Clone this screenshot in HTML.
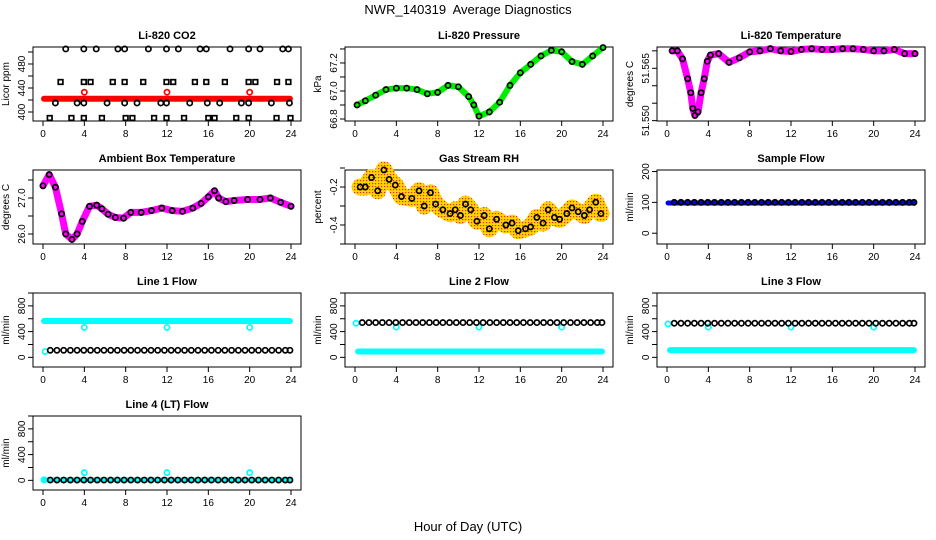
<!DOCTYPE html>
<html><head><meta charset="utf-8"><style>
html,body{margin:0;padding:0;background:#fff;}
svg{display:block;font-family:"Liberation Sans",sans-serif;}
</style></head><body>
<svg id="chart" width="936" height="540" viewBox="0 0 936 540" xmlns="http://www.w3.org/2000/svg">
<defs>
<pattern id="rhpat" width="3" height="3" patternUnits="userSpaceOnUse">
<rect width="3" height="3" fill="#ffd400"/>
<rect x="0" y="0" width="1.2" height="1.2" fill="#e8281a"/>
</pattern>
</defs>
<text x="468" y="14" font-size="13" text-anchor="middle" xml:space="preserve">NWR_140319  Average Diagnostics</text>
<text x="468" y="531" font-size="13" text-anchor="middle">Hour of Day (UTC)</text>
</svg>
<script>
// ---- data ----
const xTicks = [0,4,8,12,16,20,24];
const flowHours = [0.7,1.35,2.0,2.65,3.3,3.95,4.6,5.25,5.9,6.55,7.2,7.85,8.5,9.15,9.8,10.45,11.1,11.75,12.4,13.05,13.7,14.35,15.0,15.65,16.3,16.95,17.6,18.25,18.9,19.55,20.2,20.85,21.5,22.15,22.8,23.45,23.9];

const co2RedHours = [0.1,23.9];
const co2RedVals = [422,422];
const co2RedOutHours = [4,12,20];
const co2RedOutVals = [433,433,433];
const co2TopHours = [2.2,3.95,5.15,7.25,7.9,10.2,11.95,13.1,15.2,15.8,18.1,19.9,21.0,23.2,23.75];
const co2TopVals = [505,505,505,505,505,505,505,505,505,505,505,505,505,505,505];
const co2SqHours = [1.7,3.95,4.6,6.75,7.9,9.7,11.95,12.6,14.7,15.8,17.6,19.9,20.55,22.65,23.75];
const co2SqVals = [450,450,450,450,450,450,450,450,450,450,450,450,450,450,450];
const co2MidHours = [1.2,3.3,3.95,6.2,7.9,9.1,11.4,11.95,14.2,15.9,17.1,19.2,19.9,22.1,23.85];
const co2MidVals = [415,415,415,415,415,415,415,415,415,415,415,415,415,415,415];
const co2BotHours = [0.65,2.75,3.95,5.7,8.0,8.65,10.75,11.95,13.65,16.0,16.6,18.7,19.9,22.6,23.95];
const co2BotVals = [390,390,390,390,390,390,390,390,390,390,390,390,390,390,390];

const presHours = [0.2,1,2,3,4,5,6,7,8,9,10,11,11.5,12,13,14,15,16,17,18,19,20,21,22,23,24];
const presVals = [66.9,66.93,66.97,67.01,67.02,67.02,67.01,66.98,66.99,67.04,67.03,66.96,66.9,66.82,66.85,66.92,67.04,67.13,67.19,67.25,67.29,67.28,67.21,67.19,67.25,67.31];

const tempHours = [0.5,1,1.5,2,2.3,2.5,2.7,3,3.3,3.6,3.9,4.2,5,6,7,8,9,10,11,12,13,14,15,16,17,18,19,20,21,22,23,24];
const tempVals = [51.570,51.570,51.5677,51.562,51.558,51.5535,51.5515,51.5525,51.558,51.562,51.567,51.5688,51.5692,51.5667,51.568,51.5697,51.570,51.5706,51.570,51.5698,51.5704,51.5706,51.5704,51.5704,51.5706,51.5706,51.5704,51.570,51.570,51.5704,51.5692,51.5692];

const ambHours = [0,0.6,1.2,1.8,2.2,2.8,3.3,3.8,4.5,5.2,5.7,6.3,7,7.8,8.5,9.5,10.5,11.5,12.5,13.5,14.5,15.3,16,16.6,17,17.7,18.5,19.8,21,22,23,24];
const ambVals = [27.34,27.65,27.3,26.56,26.0,25.85,26.0,26.35,26.77,26.8,26.7,26.55,26.46,26.44,26.6,26.6,26.65,26.72,26.65,26.63,26.72,26.85,27.03,27.2,27.0,26.9,26.93,26.96,26.96,27.0,26.88,26.77];

const rhHours = [0.5,1,1.6,2.2,2.8,3.3,3.9,4.5,5.5,6.2,6.7,7.3,7.8,8.5,9.2,9.7,10.2,10.7,11.2,11.8,12.5,13,13.7,14.6,15.2,15.8,16.5,17,17.6,18.2,18.7,19.3,19.8,20.5,21,21.6,22.2,22.7,23.3,23.8];
const rhVals = [-0.2,-0.2,-0.15,-0.22,-0.11,-0.16,-0.19,-0.25,-0.26,-0.22,-0.3,-0.23,-0.29,-0.32,-0.34,-0.32,-0.35,-0.29,-0.32,-0.38,-0.35,-0.42,-0.37,-0.4,-0.39,-0.43,-0.42,-0.41,-0.36,-0.39,-0.32,-0.36,-0.37,-0.34,-0.31,-0.33,-0.35,-0.32,-0.28,-0.34];

const sampleBlueHours = [0.1,23.9];
const sampleBlueVals = [98,98];
const sampleBlackVals = [100,100,100,100,100,100,100,100,100,100,100,100,100,100,100,100,100,100,100,100,100,100,100,100,100,100,100,100,100,100,100,100,100,100,100,100,100];

const l1CyanHours = [0.1,23.9];
const l1CyanVals = [565,565];
const l1CyanExtraHours = [0.2,4,12,20];
const l1CyanExtraVals = [90,465,465,465];
const l1BlackVals = [110,110,110,110,110,110,110,110,110,110,110,110,110,110,110,110,110,110,110,110,110,110,110,110,110,110,110,110,110,110,110,110,110,110,110,110,110];

const l2CyanHours = [0.3,23.9];
const l2CyanVals = [90,90];
const l2CyanExtraHours = [0.1,4,12,20];
const l2CyanExtraVals = [530,470,470,470];
const l2BlackVals = [540,540,540,540,540,540,540,540,540,540,540,540,540,540,540,540,540,540,540,540,540,540,540,540,540,540,540,540,540,540,540,540,540,540,540,540,540];

const l3CyanHours = [0.3,23.9];
const l3CyanVals = [112,112];
const l3CyanExtraHours = [0.1,4,12,20];
const l3CyanExtraVals = [520,470,470,470];
const l3BlackVals = [530,530,530,530,530,530,530,530,530,530,530,530,530,530,530,530,530,530,530,530,530,530,530,530,530,530,530,530,530,530,530,530,530,530,530,530,530];

const l4CyanHours = [0.1,23.9];
const l4CyanVals = [8,8];
const l4CyanExtraHours = [0.1,4,12,20];
const l4CyanExtraVals = [8,120,120,120];
const l4BlackVals = [5,5,5,5,5,5,5,5,5,5,5,5,5,5,5,5,5,5,5,5,5,5,5,5,5,5,5,5,5,5,5,5,5,5,5,5,5];

// ---- drawing ----
const svg = document.getElementById('chart');
const NS = 'http://www.w3.org/2000/svg';
const colLeft = [33,345,657], rowTop = [47,170,293,416], PW = 268, PH = 74;

function mk(tag, parent){ const e = document.createElementNS(NS, tag); parent.appendChild(e); return e; }

function panel(col,row,title,ylab,dom,yticks,ylabels,name){
  const L = colLeft[col], T = rowTop[row], B = T+PH, R = L+PW;
  const g = mk('g', svg);
  
  
  const x = h => L + 10 + h*(PW-20)/24;
  const y = v => B - (v-dom[0])/(dom[1]-dom[0])*PH;
  const box = mk('rect', g);
  
  
  box.setAttribute('x', L); box.setAttribute('y', T); box.setAttribute('width', PW); box.setAttribute('height', PH);
  box.setAttribute('fill', 'none'); box.setAttribute('stroke', '#000'); box.setAttribute('stroke-width', '1');
  const t = mk('text', g);
  
  
  t.setAttribute('x', (L+R)/2); t.setAttribute('y', T-8); t.setAttribute('font-size', '11'); t.setAttribute('font-weight', 'bold'); t.setAttribute('text-anchor', 'middle');
  t.textContent = title;
  const yl = mk('text', g);
  
  
  yl.setAttribute('transform', `translate(${L-24},${(T+B)/2}) rotate(-90)`); yl.setAttribute('font-size', '10'); yl.setAttribute('text-anchor', 'middle');
  yl.textContent = ylab;
  xTicks.forEach(h => {
    const tk = mk('line', g);
    
    
    tk.setAttribute('x1', x(h)); tk.setAttribute('x2', x(h)); tk.setAttribute('y1', B); tk.setAttribute('y2', B+5); tk.setAttribute('stroke', '#000');
    const tl = mk('text', g);
    
    
    tl.setAttribute('x', x(h)); tl.setAttribute('y', B+16); tl.setAttribute('font-size', '10'); tl.setAttribute('text-anchor', 'middle');
    tl.textContent = h;
  });
  yticks.forEach(v => {
    const tk = mk('line', g);
    
    
    tk.setAttribute('x1', L); tk.setAttribute('x2', L-5); tk.setAttribute('y1', y(v)); tk.setAttribute('y2', y(v)); tk.setAttribute('stroke', '#000');
  });
  ylabels.forEach(lbl => {
    const tl = mk('text', g);
    
    
    tl.setAttribute('transform', `translate(${L-8},${y(parseFloat(lbl))}) rotate(-90)`); tl.setAttribute('font-size', '10'); tl.setAttribute('text-anchor', 'middle');
    tl.textContent = lbl;
  });
  return {g,x,y};
}

function band(p, hours, vals, color, width, name){
  const pl = mk('polyline', p.g);
  
  
  pl.setAttribute('points', hours.map((h,i)=>p.x(h)+','+p.y(vals[i])).join(' '));
  pl.setAttribute('fill', 'none'); pl.setAttribute('stroke', color); pl.setAttribute('stroke-width', width);
  pl.setAttribute('stroke-linecap', 'round'); pl.setAttribute('stroke-linejoin', 'round');
}
function pts(p, hours, vals, color, name, sq){
  hours.forEach((h,i) => {
    let c;
    if (sq) {
      c = mk('rect', p.g);
      c.setAttribute('x', p.x(h)-2.3); c.setAttribute('y', p.y(vals[i])-2.3); c.setAttribute('width', 4.6); c.setAttribute('height', 4.6);
    } else {
      c = mk('circle', p.g);
      c.setAttribute('cx', p.x(h)); c.setAttribute('cy', p.y(vals[i])); c.setAttribute('r', 2.6);
    }
    
    
    c.setAttribute('fill', 'none'); c.setAttribute('stroke', color); c.setAttribute('stroke-width', 1.7);
  });
}

// CO2
let p = panel(0,0,'Li-820 CO2','Licor ppm',[385,508.3],[400,420,440,460,480,500],['400','440','480'],'co2-panel');
band(p, co2RedHours, co2RedVals, '#ff0000', 6, 'co2-red-series');
pts(p, co2RedOutHours, co2RedOutVals, '#ff0000', 'co2-red-point');
pts(p, co2TopHours, co2TopVals, '#000', 'co2-point');
pts(p, co2SqHours, co2SqVals, '#000', 'co2-point', true);
pts(p, co2MidHours, co2MidVals, '#000', 'co2-point');
pts(p, co2BotHours, co2BotVals, '#000', 'co2-point', true);

// Pressure
p = panel(1,0,'Li-820 Pressure','kPa',[66.7857,67.314],[66.8,66.9,67.0,67.1,67.2,67.3],['66.8','67.0','67.2'],'pressure-panel');
band(p, presHours, presVals, '#00ee00', 6, 'pressure-green-series');
pts(p, presHours, presVals, '#000', 'pressure-point');

// Li-820 temperature
p = panel(2,0,'Li-820 Temperature','degrees C',[51.5499,51.5711],[51.550,51.555,51.560,51.565,51.570],['51.550','51.565'],'li820-temp-panel');
band(p, tempHours, tempVals, '#ff00ff', 7, 'li820-temp-magenta-series');
pts(p, tempHours, tempVals, '#000', 'li820-temp-point');

// Ambient
p = panel(0,1,'Ambient Box Temperature','degrees C',[25.722,27.778],[26.0,26.5,27.0,27.5],['26.0','27.0'],'ambient-temp-panel');
band(p, ambHours, ambVals, '#ff00ff', 7, 'ambient-magenta-series');
pts(p, ambHours, ambVals, '#000', 'ambient-point');

// RH
p = panel(1,1,'Gas Stream RH','percent',[-0.5,-0.1105],[-0.1,-0.2,-0.3,-0.4,-0.5],['-0.2','-0.4'],'gas-rh-panel');
band(p, rhHours, rhVals, 'url(#rhpat)', 17, 'rh-band-series');
pts(p, rhHours, rhVals, '#000', 'rh-point');

// Sample flow
p = panel(2,1,'Sample Flow','ml/min',[-35,205],[0,100,200],['0','100','200'],'sample-flow-panel');
band(p, sampleBlueHours, sampleBlueVals, '#0000ff', 5, 'sample-blue-series');
pts(p, flowHours, sampleBlackVals, '#000', 'sample-point');

const fDom = [-150,1000], fTicks = [0,200,400,600,800,1000], fLab = ['0','400','800'];
p = panel(0,2,'Line 1 Flow','ml/min',fDom,fTicks,fLab,'line1-flow-panel');
band(p, l1CyanHours, l1CyanVals, '#00ffff', 6, 'line1-cyan-series');
pts(p, l1CyanExtraHours, l1CyanExtraVals, '#00ffff', 'line1-cyan-point');
pts(p, flowHours, l1BlackVals, '#000', 'line1-point');

p = panel(1,2,'Line 2 Flow','ml/min',fDom,fTicks,fLab,'line2-flow-panel');
band(p, l2CyanHours, l2CyanVals, '#00ffff', 6, 'line2-cyan-series');
pts(p, l2CyanExtraHours, l2CyanExtraVals, '#00ffff', 'line2-cyan-point');
pts(p, flowHours, l2BlackVals, '#000', 'line2-point');

p = panel(2,2,'Line 3 Flow','ml/min',fDom,fTicks,fLab,'line3-flow-panel');
band(p, l3CyanHours, l3CyanVals, '#00ffff', 6, 'line3-cyan-series');
pts(p, l3CyanExtraHours, l3CyanExtraVals, '#00ffff', 'line3-cyan-point');
pts(p, flowHours, l3BlackVals, '#000', 'line3-point');

p = panel(0,3,'Line 4 (LT) Flow','ml/min',fDom,fTicks,fLab,'line4-flow-panel');
band(p, l4CyanHours, l4CyanVals, '#00ffff', 5, 'line4-cyan-series');
pts(p, l4CyanExtraHours, l4CyanExtraVals, '#00ffff', 'line4-cyan-point');
pts(p, flowHours, l4BlackVals, '#000', 'line4-point');
</script>
</body></html>
